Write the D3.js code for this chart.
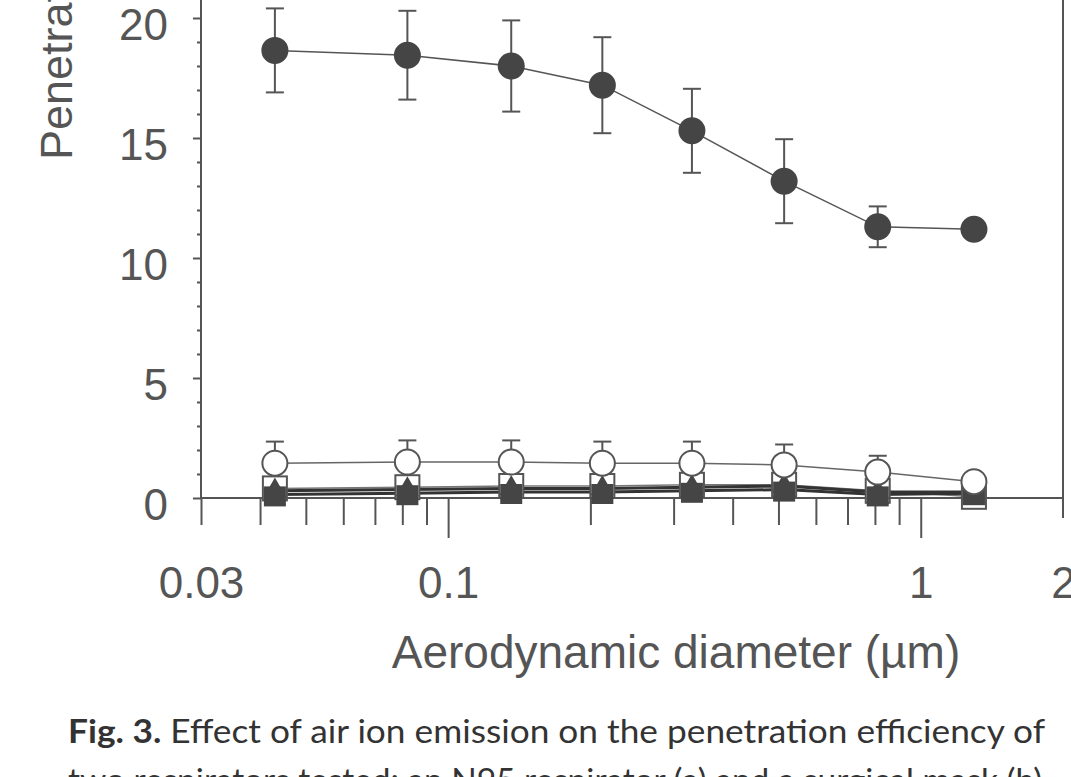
<!DOCTYPE html>
<html>
<head>
<meta charset="utf-8">
<script src="https://cdn.jsdelivr.net/npm/d3@7"></script>
<style>
  body { margin: 0; background: #fff; }
  svg { display: block; }
</style>
</head>
<body>
<div id="canvas"></div>
<script>
// diameters (um)
const diameters = [0.043, 0.082, 0.136, 0.212, 0.328, 0.514, 0.811, 1.296];

// filled circles with error bars
const filledCircle = [18.65, 18.45, 18.0, 17.2, 15.3, 13.2, 11.3, 11.2];
const filledCircleErr = [1.75, 1.85, 1.9, 2.0, 1.75, 1.75, 0.85, 0];

// open circles with error bars
const openCircle = [1.45, 1.5, 1.5, 1.45, 1.45, 1.38, 1.08, 0.68];
const openCircleErr = [0.9, 0.9, 0.9, 0.9, 0.9, 0.85, 0.68, 0];

// the three series sitting near zero
const openSquare = [0.4, 0.45, 0.5, 0.5, 0.55, 0.55, 0.3, 0.05];
const filledTriangle = [0.3, 0.35, 0.4, 0.4, 0.45, 0.5, 0.25, 0.25];
const filledSquare = [0.15, 0.2, 0.25, 0.25, 0.3, 0.35, 0.15, 0.2];

const xTickLabels = [0.03, 0.1, 1, 2];
const xMajorTicks = [0.1, 1];
const xMinorTicks = [0.03, 0.04, 0.05, 0.06, 0.07, 0.08, 0.09, 0.2, 0.3, 0.4, 0.5, 0.6, 0.7, 0.8, 0.9];
const yMajorTicks = [0, 5, 10, 15, 20];
const yMinorTicks = d3.range(0, 21).filter(v => v % 5 !== 0);

const width = 1071;
const height = 777;
const ink = "#555";
const dark = "#454545";

const svg = d3.select("#canvas").append("svg")
    .attr("width", width)
    .attr("height", height)
    .style("font-family", "'Liberation Sans', Arial, sans-serif");

svg.append("rect").attr("width", width).attr("height", height).attr("fill", "#fff");

const x = d3.scaleLog()
    .domain([0.03, 2])
    .range([201, 1063]);

const y = d3.scaleLinear()
    .domain([0, 25])
    .range([498, -102]);

// axis lines
svg.append("line")
    .attr("x1", x(0.03)).attr("x2", x(2))
    .attr("y1", y(0)).attr("y2", y(0))
    .attr("stroke", ink).attr("stroke-width", 2);
svg.append("line")
    .attr("x1", x(0.03)).attr("x2", x(0.03))
    .attr("y1", y(25)).attr("y2", y(0))
    .attr("stroke", ink).attr("stroke-width", 2);
svg.append("line")
    .attr("x1", x(2)).attr("x2", x(2))
    .attr("y1", y(25)).attr("y2", y(0) + 20)
    .attr("stroke", ink).attr("stroke-width", 2);

// y axis ticks
const yMajor = svg.append("g")
    .attr("transform", `translate(${x(0.03)},0)`)
    .call(d3.axisLeft(y).tickValues(yMajorTicks).tickSize(8).tickPadding(24));
const yMinor = svg.append("g")
    .attr("transform", `translate(${x(0.03)},0)`)
    .call(d3.axisLeft(y).tickValues(yMinorTicks).tickSize(4).tickFormat(""));

// x axis ticks
const xMajor = svg.append("g")
    .attr("transform", `translate(0,${y(0)})`)
    .call(d3.axisBottom(x).tickValues(xMajorTicks).tickSize(40).tickFormat(""));
const xMinor = svg.append("g")
    .attr("transform", `translate(0,${y(0)})`)
    .call(d3.axisBottom(x).tickValues(xMinorTicks).tickSize(27).tickFormat(""));
const xLabels = svg.append("g")
    .attr("transform", `translate(0,${y(0)})`)
    .call(d3.axisBottom(x).tickValues(xTickLabels).tickSize(0).tickFormat(d => d3.format("")(d)));

[yMajor, yMinor, xMajor, xMinor, xLabels].forEach(a => {
    a.select(".domain").remove();
    a.selectAll("line").attr("stroke", ink).attr("stroke-width", 2);
    a.selectAll("text")
        .attr("fill", ink)
        .style("font-size", "44px")
        .style("font-family", "'Liberation Sans', Arial, sans-serif");
});
yMajor.selectAll("text").attr("dy", null).attr("y", 21).attr("x", -33);
xLabels.selectAll("text").attr("dy", null).attr("y", 100);

// axis titles
svg.append("text")
    .attr("transform", "translate(72,160) rotate(-90)")
    .attr("fill", ink)
    .style("font-size", "45px")
    .text("Penetration (%)");

svg.append("text")
    .attr("x", 676)
    .attr("y", 668)
    .attr("text-anchor", "middle")
    .attr("fill", ink)
    .style("font-size", "46px")
    .text("Aerodynamic diameter (µm)");

// lines
const line = d3.line()
    .x(d => x(d[0]))
    .y(d => y(d[1]));

function pairs(vals) {
    return diameters.map((d, i) => [d, vals[i]]);
}

svg.append("path").datum(pairs(openSquare))
    .attr("d", line).attr("fill", "none").attr("stroke", "#777").attr("stroke-width", 1.5);
svg.append("path").datum(pairs(filledSquare))
    .attr("d", line).attr("fill", "none").attr("stroke", "#333").attr("stroke-width", 3);
svg.append("path").datum(pairs(filledTriangle))
    .attr("d", line).attr("fill", "none").attr("stroke", "#333").attr("stroke-width", 3);
svg.append("path").datum(pairs(openCircle))
    .attr("d", line).attr("fill", "none").attr("stroke", "#666").attr("stroke-width", 1.5);
svg.append("path").datum(pairs(filledCircle))
    .attr("d", line).attr("fill", "none").attr("stroke", "#555").attr("stroke-width", 1.5);

// error bars
function errorBars(vals, errs) {
    const data = diameters.map((d, i) => ({ d: d, v: vals[i], e: errs[i] })).filter(p => p.e > 0);
    const g = svg.append("g").attr("stroke", ink).attr("stroke-width", 2);
    g.selectAll(".stem").data(data).enter().append("line")
        .attr("x1", p => x(p.d)).attr("x2", p => x(p.d))
        .attr("y1", p => y(p.v + p.e)).attr("y2", p => y(p.v - p.e));
    g.selectAll(".capTop").data(data).enter().append("line")
        .attr("x1", p => x(p.d) - 9).attr("x2", p => x(p.d) + 9)
        .attr("y1", p => y(p.v + p.e)).attr("y2", p => y(p.v + p.e));
    g.selectAll(".capBottom").data(data).enter().append("line")
        .attr("x1", p => x(p.d) - 9).attr("x2", p => x(p.d) + 9)
        .attr("y1", p => y(p.v - p.e)).attr("y2", p => y(p.v - p.e));
}
errorBars(filledCircle, filledCircleErr);
errorBars(openCircle, openCircleErr);

// markers, bottom series first
svg.append("g").selectAll("rect").data(pairs(openSquare)).enter().append("rect")
    .attr("x", d => x(d[0]) - 12).attr("y", d => y(d[1]) - 12)
    .attr("width", 24).attr("height", 24)
    .attr("fill", "#fff").attr("stroke", ink).attr("stroke-width", 2);

svg.append("g").selectAll("rect").data(pairs(filledSquare)).enter().append("rect")
    .attr("x", d => x(d[0]) - 11).attr("y", d => y(d[1]) - 8)
    .attr("width", 22).attr("height", 20)
    .attr("fill", dark);

svg.append("g").selectAll("path").data(pairs(filledTriangle)).enter().append("path")
    .attr("d", d3.symbol().type(d3.symbolTriangle).size(230))
    .attr("transform", d => `translate(${x(d[0])},${y(d[1])})`)
    .attr("fill", dark);

svg.append("g").selectAll("circle").data(pairs(openCircle)).enter().append("circle")
    .attr("cx", d => x(d[0])).attr("cy", d => y(d[1]))
    .attr("r", 12.5)
    .attr("fill", "#fff").attr("stroke", ink).attr("stroke-width", 2);

svg.append("g").selectAll("circle").data(pairs(filledCircle)).enter().append("circle")
    .attr("cx", d => x(d[0])).attr("cy", d => y(d[1]))
    .attr("r", 13.5)
    .attr("fill", dark);

// caption
const cap = svg.append("text")
    .attr("x", 68)
    .attr("y", 743)
    .attr("fill", "#333")
    .attr("textLength", 977)
    .attr("lengthAdjust", "spacingAndGlyphs")
    .style("font-family", "Lato, 'Noto Sans', sans-serif")
    .style("font-size", "32px");
cap.append("tspan").style("font-weight", "bold").text("Fig. 3.");
cap.append("tspan").text(" Effect of air ion emission on the penetration efficiency of");

svg.append("text")
    .attr("x", 68)
    .attr("y", 792)
    .attr("fill", "#333")
    .attr("textLength", 982)
    .attr("lengthAdjust", "spacingAndGlyphs")
    .style("font-family", "Lato, 'Noto Sans', sans-serif")
    .style("font-size", "32px")
    .text("two respirators tested: an N95 respirator (a) and a surgical mask (b).");
</script>
</body>
</html>
